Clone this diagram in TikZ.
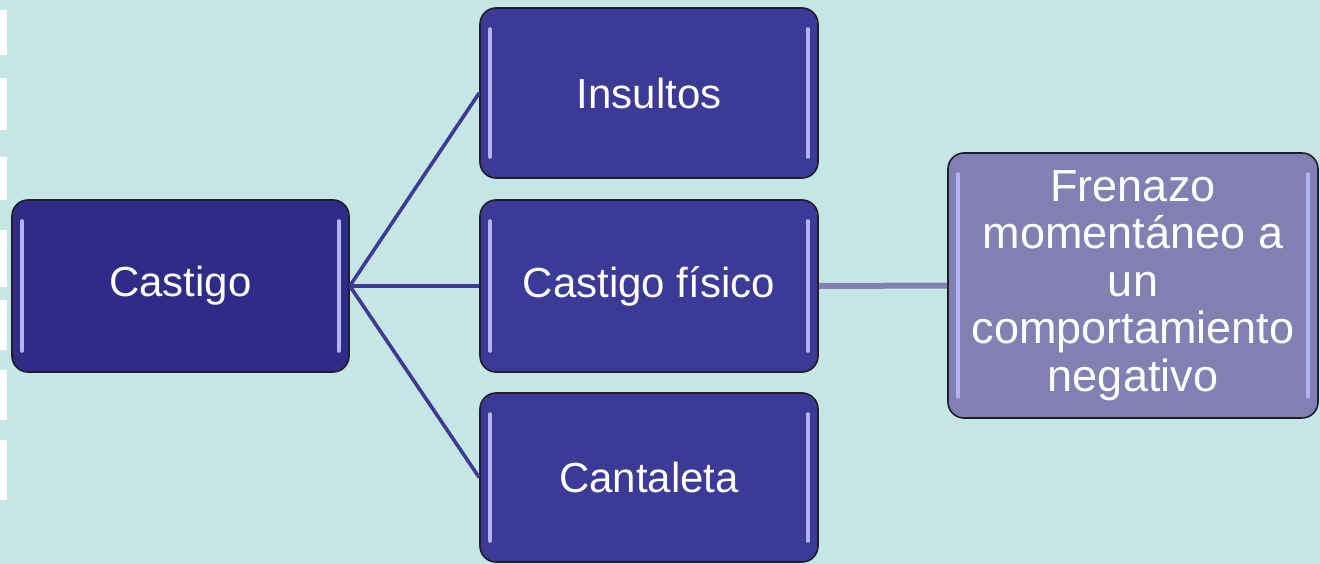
\documentclass[tikz,border=0pt]{standalone}
\usepackage{fontspec}
\setmainfont{Liberation Sans}
\definecolor{bg}{HTML}{C5E6E4}
\definecolor{navy}{HTML}{2E2C87}
\definecolor{blue2}{HTML}{3B3A96}
\definecolor{lav}{HTML}{8280B3}
\definecolor{hl}{HTML}{B4B3F2}
\definecolor{rim}{HTML}{1E1E2A}
\tikzset{
  box/.style={rectangle, rounded corners=16pt, draw=rim, line width=1.6pt,
    minimum width=#1, text=white, align=center,
    font=\fontsize{42}{47}\selectfont, inner sep=0pt},
  link/.style={line width=3.6pt, draw=blue2},
  biglink/.style={line width=6pt, draw=lav},
  shine/.style={draw=hl, line width=4pt, line cap=round}
}
\newcommand{\bars}[1]{%
  \draw[shine] ([shift={(11pt,-22pt)}]#1.north west) -- ([shift={(11pt,22pt)}]#1.south west);
  \draw[shine] ([shift={(-11pt,-22pt)}]#1.north east) -- ([shift={(-11pt,22pt)}]#1.south east);}
\begin{document}
\begin{tikzpicture}[x=1pt,y=-1pt]
\useasboundingbox (0,0) rectangle (1320,564);
\fill[bg] (0,0) rectangle (1320,564);
% left white marks
\foreach \a/\b in {10/55,78/130,157/200,230/287,300/350,370/420,440/500}
  \fill[white] (0,\a) rectangle (7,\b);
% nodes
\node[box=337pt, minimum height=172pt, fill=navy] (castigo) at (180.5,286) {Castigo};
\node[box=338pt, minimum height=170pt, fill=blue2] (insultos) at (649,93) {Insultos};
\node[box=338pt, minimum height=172pt, fill=blue2] (fisico) at (649,286) {Castigo físico};
\node[box=338pt, minimum height=169pt, fill=blue2] (canta) at (649,477.5) {Cantaleta};
\node[box=370pt, minimum height=265pt, fill=lav, font=\fontsize{45}{47.5}\selectfont] (fren) at (1133,285.5)
  {Frenazo\\momentáneo a\\un\\comportamiento\\negativo};
\bars{castigo}\bars{insultos}\bars{fisico}\bars{canta}\bars{fren}
% connectors
\draw[link] (castigo.east) -- (insultos.west);
\draw[link] (castigo.east) -- (fisico.west);
\draw[link] (castigo.east) -- (canta.west);
\draw[biglink] (fisico.east) -- (fren.west);
\end{tikzpicture}
\end{document}
